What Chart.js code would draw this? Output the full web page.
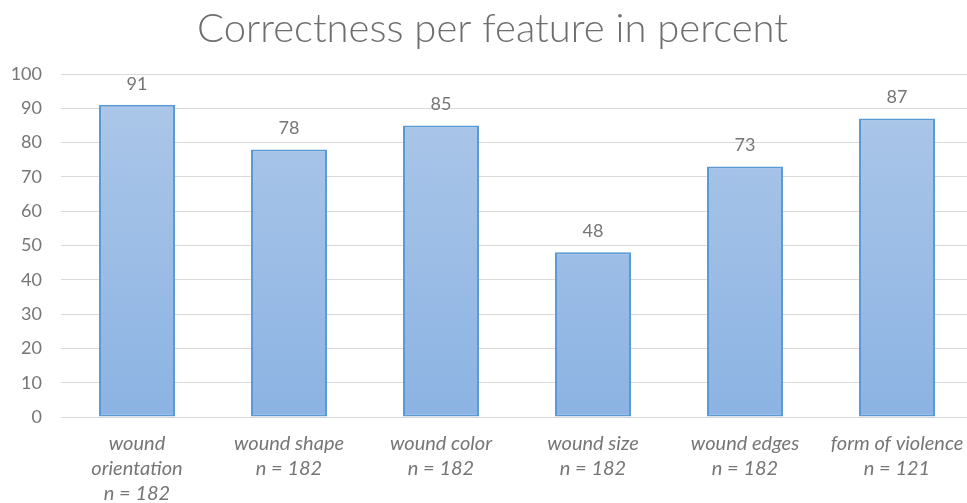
<!DOCTYPE html>
<html>
<head>
<meta charset="utf-8">
<script src="https://cdn.jsdelivr.net/npm/chart.js@4/dist/chart.umd.min.js"></script>
<style>
html,body{margin:0;padding:0;background:#fff;overflow:hidden;width:967px;height:503px;}
#c{display:block;}
</style>
</head>
<body>
<canvas id="c" width="973" height="503" style="width:973px;height:503px;"></canvas>
<script>
const categories = [
  ["wound", "orientation", "n = 182"],
  ["wound shape", "n = 182"],
  ["wound color", "n = 182"],
  ["wound size", "n = 182"],
  ["wound edges", "n = 182"],
  ["form of violence", "n = 121"]
];
const values = [91, 78, 85, 48, 73, 87];
const yTicks = [0, 10, 20, 30, 40, 50, 60, 70, 80, 90, 100];
const titleText = "Correctness per feature in percent";

const textColor = "#767676";

const valueLabels = {
  id: "valueLabels",
  afterDatasetsDraw(chart) {
    const ctx = chart.ctx;
    const meta = chart.getDatasetMeta(0);
    ctx.save();
    ctx.font = "18px Lato";
    ctx.fillStyle = textColor;
    ctx.textAlign = "center";
    ctx.textBaseline = "middle";
    meta.data.forEach((bar, i) => {
      ctx.fillText(String(values[i]), bar.x, bar.y - 21);
    });
    ctx.restore();
  }
};

function barGradient(context) {
  const chart = context.chart;
  const area = chart.chartArea;
  if (!area) return "#9dbde6";
  const g = chart.ctx.createLinearGradient(0, area.top, 0, area.bottom);
  g.addColorStop(0, "#aec8e9");
  g.addColorStop(1, "#8bb3e3");
  return g;
}

new Chart(document.getElementById("c"), {
  type: "bar",
  data: {
    labels: categories,
    datasets: [{
      data: values,
      backgroundColor: barGradient,
      borderColor: "#5b9bd5",
      borderWidth: 2,
      borderSkipped: false,
      barPercentage: 0.5,
      categoryPercentage: 1.0
    }]
  },
  options: {
    responsive: false,
    maintainAspectRatio: false,
    animation: false,
    devicePixelRatio: 1,
    layout: { padding: { left: 12, right: 0, top: 0, bottom: 0 } },
    plugins: {
      legend: { display: false },
      tooltip: { enabled: false },
      title: {
        display: true,
        text: titleText,
        color: "#6e6e6e",
        font: { family: "Lato", size: 40, weight: "300", lineHeight: 1.2 },
        padding: { top: 5, bottom: 21 }
      }
    },
    scales: {
      x: {
        grid: { display: false, drawTicks: false },
        border: { display: true, color: "#d9d9d9", width: 1 },
        ticks: {
          color: textColor,
          font: { family: "Lato", size: 20, style: "italic", lineHeight: 1.25 },
          padding: 14,
          maxRotation: 0,
          autoSkip: false
        },
        afterFit(s) { s.height = 86; s.paddingLeft = 0; s.paddingRight = 0; }
      },
      y: {
        min: 0,
        max: 100,
        afterBuildTicks(s) { s.ticks = yTicks.map(v => ({ value: v })); },
        grid: { color: "#d9d9d9", lineWidth: 1, drawTicks: false },
        border: { display: false },
        ticks: {
          color: textColor,
          font: { family: "Lato", size: 18 },
          padding: 19
        },
        afterFit(s) { s.width = 49; }
      }
    }
  },
  plugins: [valueLabels]
});
</script>
</body>
</html>
